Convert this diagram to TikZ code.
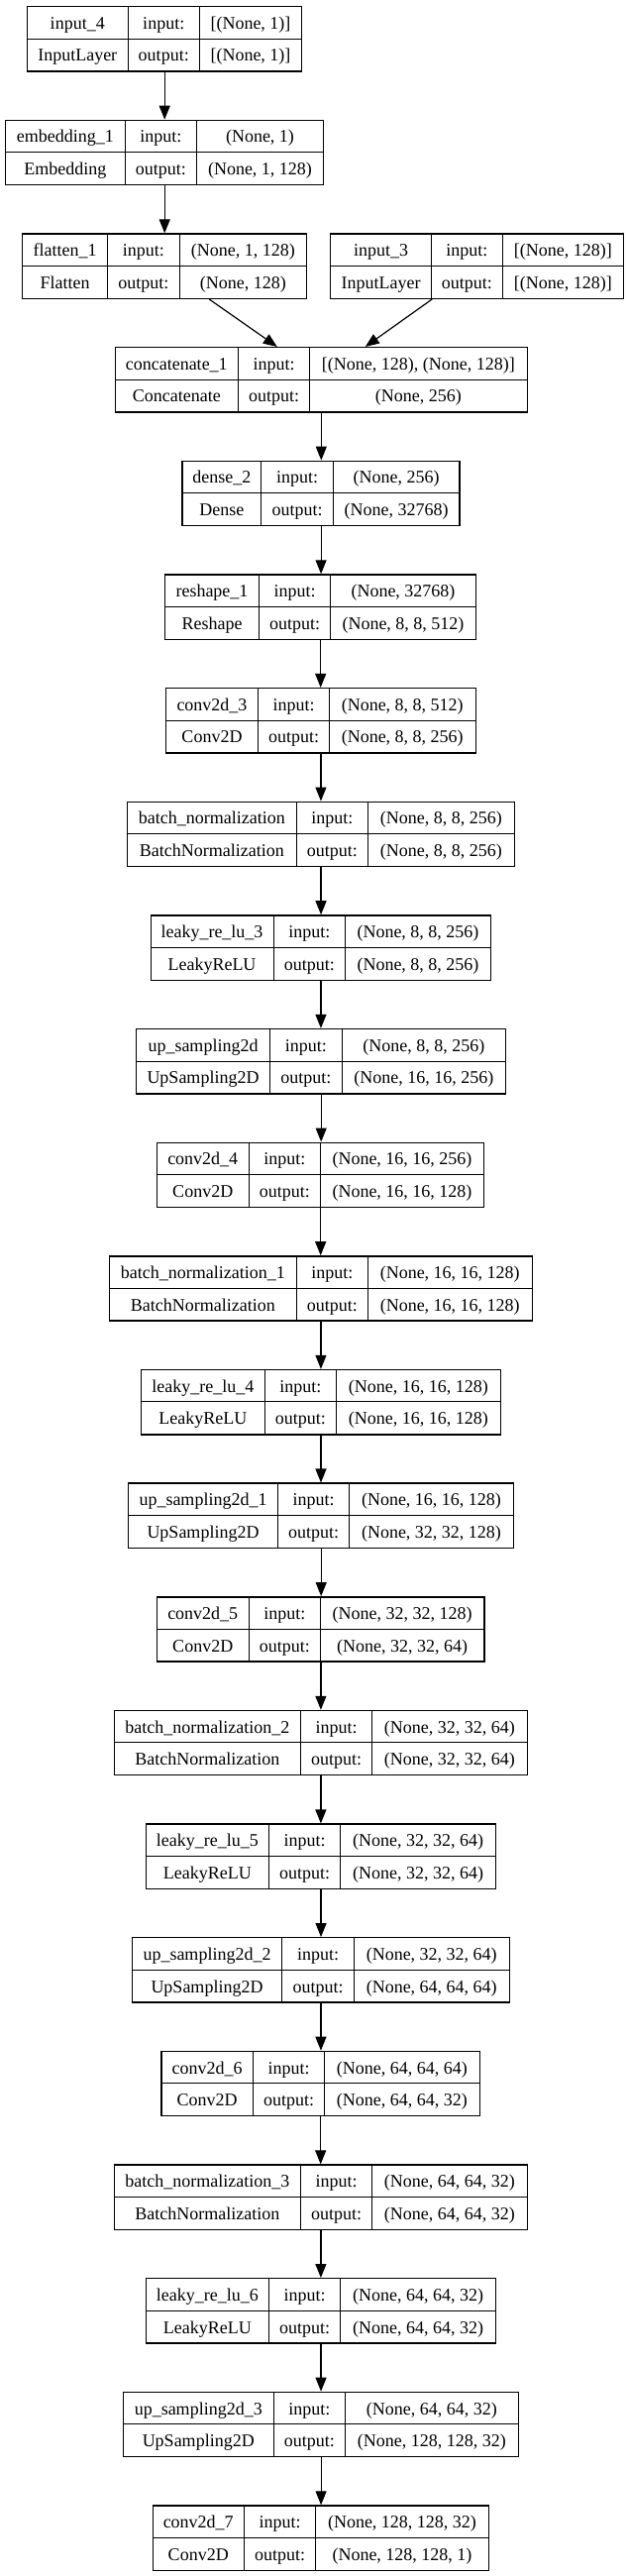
\documentclass[tikz,border=0pt]{standalone}
\usepackage{fontspec}
\setmainfont{Liberation Serif}
\usetikzlibrary{arrows.meta}
\tikzset{
  cell/.style={draw=black, line width=1pt, inner sep=0pt, minimum height=32.65pt,
    text height=13.5pt, text depth=0.5pt, anchor=north west,
    font=\fontsize{18}{20}\selectfont},
  boxfit/.style={draw=black, line width=1.4pt, inner sep=0pt, minimum height=65.3pt, anchor=north west},
  arr/.style={line width=1.2pt, draw=black, -{Triangle[length=14pt,width=11pt]}},
}
\def\getpos#1,#2,#3,#4\relax{\def\Lxl{#1}\def\Lda{#2}\def\Ldb{#3}\def\Lxr{#4}}
% #1 node name, #2 row index, #3 xl,d1,d2,xr, #4 layer name, #5 input shape, #6 class, #7 output shape
\newcommand\layer[7]{%
  \getpos#3\relax
  \pgfmathsetmacro\Lyt{-(6+114.65*#2)}%
  \pgfmathsetmacro\Lym{\Lyt-32.65}%
  \pgfmathsetmacro\Lwa{\Lda-\Lxl}%
  \pgfmathsetmacro\Lwb{\Ldb-\Lda}%
  \pgfmathsetmacro\Lwc{\Lxr-\Ldb}%
  \pgfmathsetmacro\Lwt{\Lxr-\Lxl}%
  \node[cell, minimum width=\Lwa pt] (#1-name) at (\Lxl,\Lyt) {#4};
  \node[cell, minimum width=\Lwb pt] (#1-in) at (\Lda,\Lyt) {input:};
  \node[cell, minimum width=\Lwc pt] (#1-ishape) at (\Ldb,\Lyt) {#5};
  \node[cell, minimum width=\Lwa pt] (#1-cls) at (\Lxl,\Lym) {#6};
  \node[cell, minimum width=\Lwb pt] (#1-out) at (\Lda,\Lym) {output:};
  \node[cell, minimum width=\Lwc pt] (#1-oshape) at (\Ldb,\Lym) {#7};
  \node[boxfit, minimum width=\Lwt pt] (#1) at (\Lxl,\Lyt) {};
}
\begin{document}
\begin{tikzpicture}[x=1pt,y=1pt]
\fill[white] (0,0) rectangle (633,-2600);
\useasboundingbox (0,0) rectangle (633,-2600);

\layer{L0}{0}{27,128.5,201,304}{input\_4}{[(None, 1)]}{InputLayer}{[(None, 1)]}
\layer{L1}{1}{5,125.6,198,326}{embedding\_1}{(None, 1)}{Embedding}{(None, 1, 128)}
\layer{L2a}{2}{22,108,180.6,309}{flatten\_1}{(None, 1, 128)}{Flatten}{(None, 128)}
\layer{L2b}{2}{333,435,506.6,629}{input\_3}{[(None, 128)]}{InputLayer}{[(None, 128)]}
\layer{L3}{3}{115.5,240,312,531.7}{concatenate\_1}{[(None, 128), (None, 128)]}{Concatenate}{(None, 256)}
\layer{L4}{4}{183.4,263.4,335.7,463.4}{dense\_2}{(None, 256)}{Dense}{(None, 32768)}
\layer{L5}{5}{166,261,333,480}{reshape\_1}{(None, 32768)}{Reshape}{(None, 8, 8, 512)}
\layer{L6}{6}{167,260,332,479.5}{conv2d\_3}{(None, 8, 8, 512)}{Conv2D}{(None, 8, 8, 256)}
\layer{L7}{7}{128,298.6,371,518.7}{batch\_normalization}{(None, 8, 8, 256)}{BatchNormalization}{(None, 8, 8, 256)}
\layer{L8}{8}{151.5,275.5,348,495}{leaky\_re\_lu\_3}{(None, 8, 8, 256)}{LeakyReLU}{(None, 8, 8, 256)}
\layer{L9}{9}{137,272,344.6,510}{up\_sampling2d}{(None, 8, 8, 256)}{UpSampling2D}{(None, 16, 16, 256)}
\layer{L10}{10}{158,250.5,323,488}{conv2d\_4}{(None, 16, 16, 256)}{Conv2D}{(None, 16, 16, 128)}
\layer{L11}{11}{110,298.6,371,536.5}{batch\_normalization\_1}{(None, 16, 16, 128)}{BatchNormalization}{(None, 16, 16, 128)}
\layer{L12}{12}{142,266.6,339,504.6}{leaky\_re\_lu\_4}{(None, 16, 16, 128)}{LeakyReLU}{(None, 16, 16, 128)}
\layer{L13}{13}{129,280,352,518}{up\_sampling2d\_1}{(None, 16, 16, 128)}{UpSampling2D}{(None, 32, 32, 128)}
\layer{L14}{14}{158,250.5,323,488.4}{conv2d\_5}{(None, 32, 32, 128)}{Conv2D}{(None, 32, 32, 64)}
\layer{L15}{15}{114.7,303,375,531.7}{batch\_normalization\_2}{(None, 32, 32, 64)}{BatchNormalization}{(None, 32, 32, 64)}
\layer{L16}{16}{146.7,271,343.4,500}{leaky\_re\_lu\_5}{(None, 32, 32, 64)}{LeakyReLU}{(None, 32, 32, 64)}
\layer{L17}{17}{133,284,357,513.5}{up\_sampling2d\_2}{(None, 32, 32, 64)}{UpSampling2D}{(None, 64, 64, 64)}
\layer{L18}{18}{162.4,255,327,483.6}{conv2d\_6}{(None, 64, 64, 64)}{Conv2D}{(None, 64, 64, 32)}
\layer{L19}{19}{114.7,303,375,531.7}{batch\_normalization\_3}{(None, 64, 64, 32)}{BatchNormalization}{(None, 64, 64, 32)}
\layer{L20}{20}{146.7,271,343.4,500}{leaky\_re\_lu\_6}{(None, 64, 64, 32)}{LeakyReLU}{(None, 64, 64, 32)}
\layer{L21}{21}{124,275.5,348,522.8}{up\_sampling2d\_3}{(None, 64, 64, 32)}{UpSampling2D}{(None, 128, 128, 32)}
\layer{L22}{22}{153.5,246,318,493}{conv2d\_7}{(None, 128, 128, 32)}{Conv2D}{(None, 128, 128, 1)}

\draw[arr] (L0.south) -- (L0.south |- L1.north);
\draw[arr] (L1.south) -- (L1.south |- L2a.north);
\draw[arr] ([xshift=45pt]L2a.south) -- ([xshift=-44.5pt]L3.north);
\draw[arr] ([xshift=-45.5pt]L2b.south) -- ([xshift=44.5pt]L3.north);
\foreach \i [evaluate=\i as \j using int(\i+1)] in {3,...,21}{
  \draw[arr] (L\i.south) -- (L\i.south |- L\j.north);
}
\end{tikzpicture}
\end{document}
